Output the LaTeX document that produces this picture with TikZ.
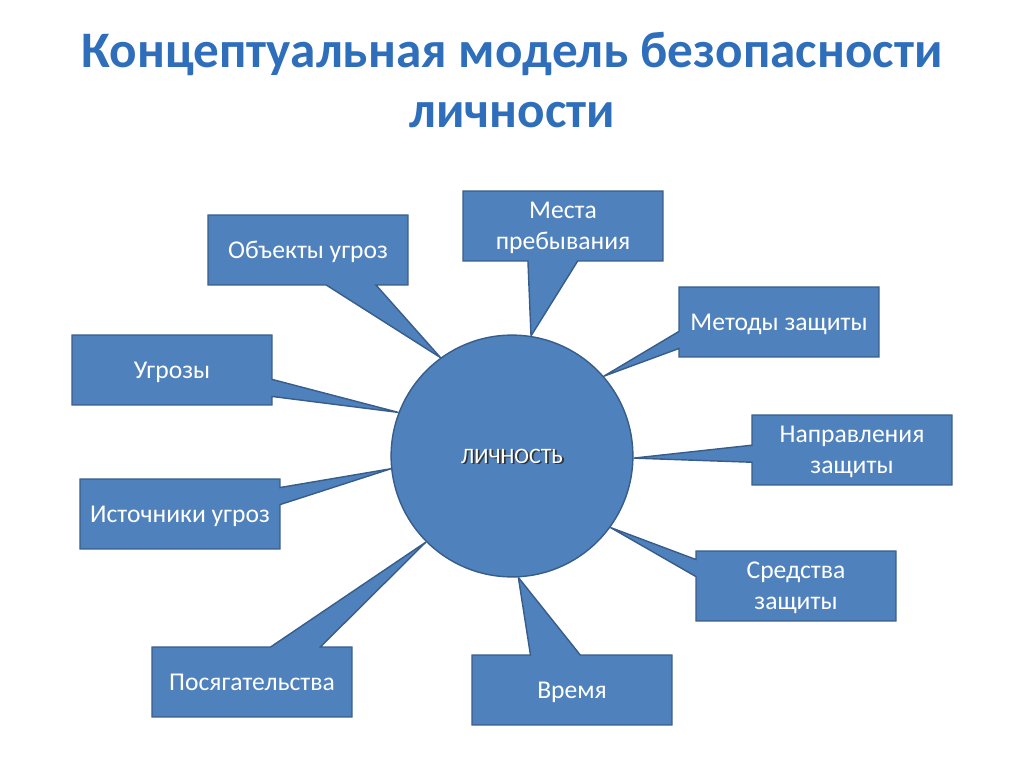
\documentclass[tikz,border=0pt]{standalone}
\usepackage{fontspec}
\setmainfont{Carlito}
\usetikzlibrary{shapes.callouts,backgrounds}
\definecolor{boxblue}{HTML}{4F81BD}
\definecolor{edgeblue}{HTML}{385D8A}
\definecolor{titleblue}{HTML}{2F6EBA}
\tikzset{
  bubble/.style={rectangle callout,draw=edgeblue,fill=boxblue,line width=1pt,
    minimum width=140.6pt,minimum height=49.2pt,inner sep=2pt,text=white,text depth=-4pt,
    font=\fontsize{18}{21.6}\selectfont,align=center},
  widetip/.style={callout pointer width=35pt},
  slimtip/.style={callout pointer width=12pt},
  headline/.style={text=titleblue,font=\fontsize{36}{40}\selectfont\bfseries},
}
\begin{document}
\begin{tikzpicture}[x=0.703125pt,y=-0.703125pt,line join=round]
			\useasboundingbox (0,0) rectangle (1024,768);
			% title
			\node[headline] (title1) at (512,54) {Концептуальная модель безопасности};
			\node[headline] (title2) at (512,115) {личности};
			% centre
			\node[circle,draw=edgeblue,fill=boxblue,line width=1pt,minimum size=170pt,inner sep=0pt] (lich) at (512,456) {};
			\node[text=black!80,font=\fontsize{15.5}{18}\selectfont] (lichshadow) at ([shift={(1.8,1.8)}]lich.center) {ЛИЧНОСТЬ};
			\node[text=white,font=\fontsize{15.5}{18}\selectfont] (lichtext) at (lich.center) {ЛИЧНОСТЬ};
			\begin{scope}[on background layer]
				\node[bubble,widetip,callout absolute pointer={(lich.126)}] (objekty) at (308,250) {Объекты угроз};
				\node[bubble,widetip,callout absolute pointer={(lich.81.5)}] (mesta) at (563,226) {Места\\пребывания};
				\node[bubble,slimtip,callout absolute pointer={(lich.41)}] (metody) at (779,322) {Методы защиты};
				\node[bubble,slimtip,callout absolute pointer={(lich.159.5)}] (ugrozy) at (172,370) {Угрозы};
				\node[bubble,slimtip,callout absolute pointer={(lich.-1.4)}] (napr) at (852,450) {Направления\\защиты};
				\node[bubble,slimtip,callout absolute pointer={(lich.186.7)}] (istoch) at (180,514) {Источники угроз};
				\node[bubble,slimtip,callout absolute pointer={(lich.-36.9)}] (sredstva) at (796,586) {Средства\\защиты};
				\node[bubble,widetip,callout absolute pointer={(lich.225.3)}] (posyag) at (252,682) {Посягательства};
				\node[bubble,widetip,callout absolute pointer={(lich.-87.6)}] (vremya) at (572,690) {Время};
			\end{scope}
		\end{tikzpicture}
\end{document}
